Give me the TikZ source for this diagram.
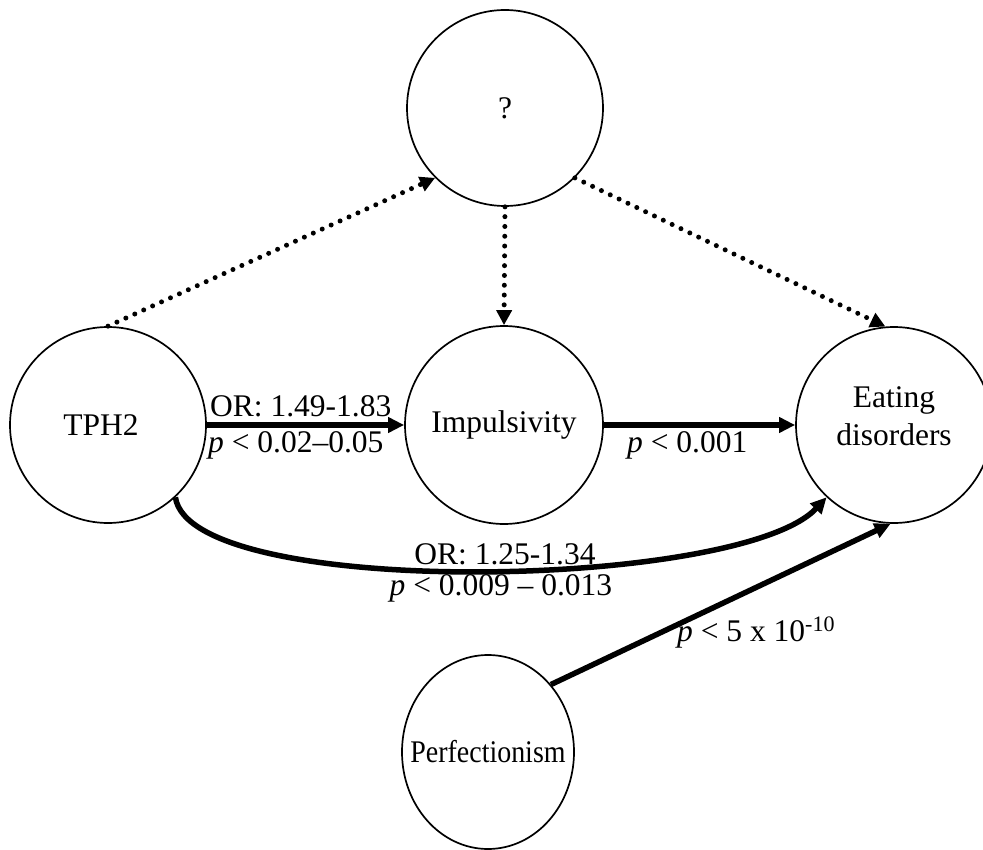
\documentclass[tikz,border=0pt]{standalone}
\usepackage{fontspec}
\setmainfont{Liberation Serif}
\usetikzlibrary{arrows.meta,shapes.geometric}
\begin{document}
\begin{tikzpicture}[x=1pt,y=-1pt,
  font=\fontsize{31.5pt}{38pt}\selectfont,
  vnode/.style={circle,draw,line width=1.7pt,minimum size=196pt,inner sep=0pt,align=center},
  lbl/.style={inner sep=0pt,anchor=base west},
  solidarrow/.style={line width=5.5pt,-{Triangle[length=16pt,width=15pt]}},
  dotarrow/.style={line width=5pt,line cap=round,dash pattern=on 0pt off 9.8pt,-{Triangle[length=15pt,width=15pt]}}]
\clip (0,0) rectangle (983,850);
% nodes
\node[vnode] (q) at (505,108) {?};
\node[vnode] (tph) at (108,425) {\kern-14pt TPH2};
\node[vnode,minimum size=198pt] (imp) at (504,425) {Impulsivity};
\node[vnode] (eat) at (894,425) {Eating\\disorders\rule[-17.5pt]{0pt}{17.5pt}};
\node[ellipse,draw,line width=1.7pt,minimum width=172pt,minimum height=194pt,inner sep=0pt] (perf) at (488,752) {\makebox[0pt]{\scalebox{0.887}[1]{Perfectionism}}};
% connectors
\draw[solidarrow] (tph) -- (imp);
\draw[solidarrow] (imp) -- (eat);
\draw[solidarrow] (tph.-47) .. controls (190,600) and (740,590) .. (eat.227.5);
\draw[solidarrow] (perf.47) -- (eat.-92);
\draw[dotarrow] (tph.north) -- (q.225);
\draw[dotarrow] (q.south) -- (imp.north);
\draw[dotarrow] (q.-45) -- (eat.95);
% labels
\node[lbl] (l1) at (210,416) {OR: 1.49-1.83};
\node[lbl] (l2) at (208,452) {\textit{p} < 0.02–0.05};
\node[lbl] (l3) at (627,452) {\textit{p} < 0.001};
\node[lbl,anchor=base] (l4) at (505,564) {OR: 1.25-1.34};
\node[lbl,anchor=base] (l5) at (501,595) {\textit{p} < 0.009 – 0.013};
\node[lbl] (l6) at (677,641) {\textit{p} < 5 x 10\textsuperscript{-10}};
\end{tikzpicture}
\end{document}
